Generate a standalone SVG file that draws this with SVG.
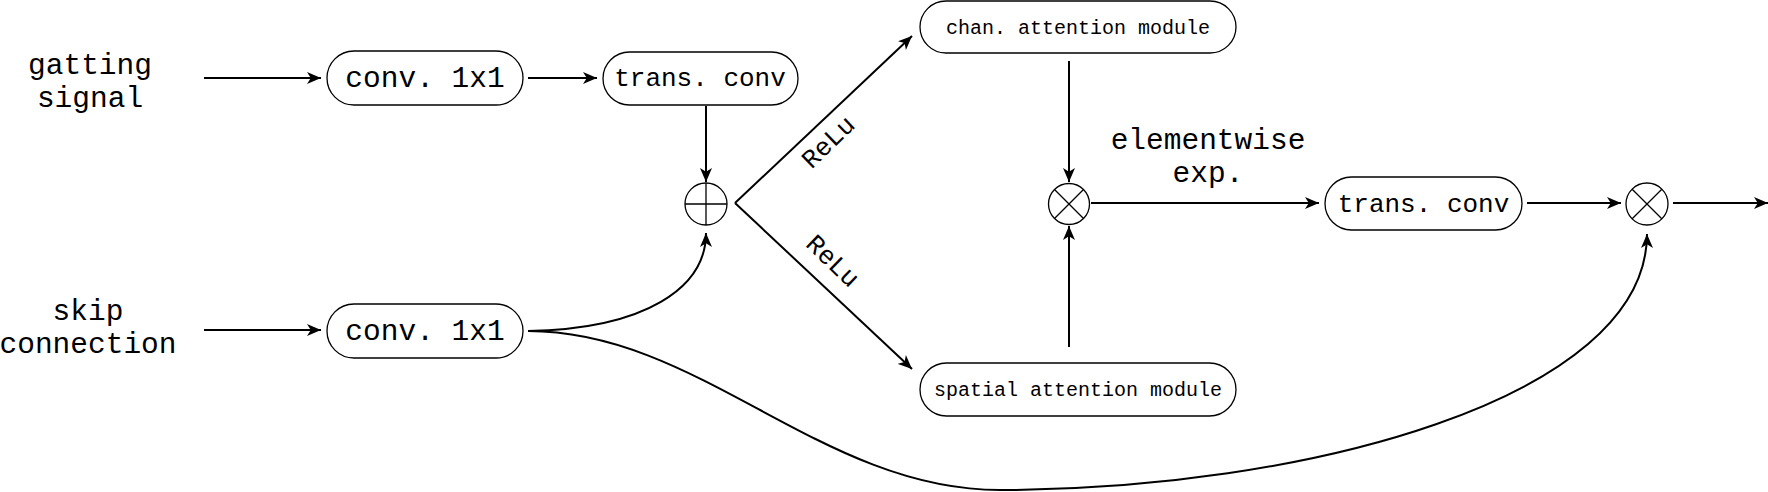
<svg xmlns="http://www.w3.org/2000/svg" width="1768" height="492" viewBox="0 0 1768 492">
<style>
.box{fill:#fff;stroke:#000;stroke-width:1.3}
.op{fill:#fff;stroke:#000;stroke-width:1.3}
.opl{stroke:#000;stroke-width:1.3;fill:none}
.c{fill:none;stroke:#000;stroke-width:2}
.a{marker-end:url(#arr)}
text{font-family:"Courier New","Nimbus Mono PS","FreeMono","Liberation Mono",monospace;fill:#000;text-anchor:middle}
.big{font-size:29.5px}
.mid{font-size:26px}
.sm{font-size:20px}
</style>
<defs>
<marker id="arr" markerUnits="userSpaceOnUse" markerWidth="15" markerHeight="13" refX="14" refY="6.5" orient="auto">
<path d="M0,0.5 L14,6.5 L0,12.5 L3.8,6.5 z" fill="#000"/>
</marker>
</defs>
<g id="connectors">
<path class="c a" d="M204,78 H321"/>
<path class="c a" d="M528,78 H597"/>
<path class="c a" d="M204,330 H321"/>
<path class="c a" d="M706,106 V182"/>
<path class="c a" d="M528,331 C645,329 706,288 706,233"/>
<path class="c a" d="M735,203 L912,36"/>
<path class="c a" d="M735,203 L912,369"/>
<path class="c a" d="M1069,61 V182"/>
<path class="c a" d="M1069,347 V226"/>
<path class="c a" d="M1091,203 H1319"/>
<path class="c a" d="M1527,203 H1621"/>
<path class="c a" d="M1673,203 H1768"/>
<path class="c a" d="M528,331 C700,331 820,490 1000,490 C1300,490 1647,400 1647,234"/>
<text class="mid" transform="translate(834,148) rotate(-44)">ReLu</text>
<text class="mid" transform="translate(827,267) rotate(44)">ReLu</text>
<text class="big" x="1208" y="149">elementwise</text>
<text class="big" x="1208" y="182">exp.</text>
</g>
<g id="gating-signal">
<text class="big" x="90" y="74">gatting</text>
<text class="big" x="90" y="107">signal</text>
</g>
<g id="skip-connection">
<text class="big" x="88" y="320">skip</text>
<text class="big" x="88" y="353">connection</text>
</g>
<g id="conv-top">
<rect class="box" x="327" y="51" width="196" height="54" rx="27"/>
<text class="big" x="425" y="87">conv. 1x1</text>
</g>
<g id="conv-bottom">
<rect class="box" x="327" y="304" width="196" height="54" rx="27"/>
<text class="big" x="425" y="340">conv. 1x1</text>
</g>
<g id="trans-conv-top">
<rect class="box" x="603" y="52" width="195" height="53" rx="26.5"/>
<text class="mid" x="700" y="86">trans. conv</text>
</g>
<g id="add">
<circle class="op" cx="706" cy="204" r="21"/>
<path class="opl" d="M685,204 H727 M706,183 V225"/>
</g>
<g id="chan-attention">
<rect class="box" x="920" y="1" width="316" height="52" rx="26"/>
<text class="sm" x="1078" y="34">chan. attention module</text>
</g>
<g id="spatial-attention">
<rect class="box" x="920" y="363" width="316" height="53" rx="26.5"/>
<text class="sm" x="1078" y="396">spatial attention module</text>
</g>
<g id="mult-mid">
<circle class="op" cx="1069" cy="204" r="20.5"/>
<path class="opl" d="M1054.5,189.5 L1083.5,218.5 M1083.5,189.5 L1054.5,218.5"/>
</g>
<g id="trans-conv-right">
<rect class="box" x="1325" y="177" width="197" height="53" rx="26.5"/>
<text class="mid" x="1423.5" y="212">trans. conv</text>
</g>
<g id="mult-out">
<circle class="op" cx="1647" cy="204" r="21"/>
<path class="opl" d="M1632.2,189.2 L1661.8,218.8 M1661.8,189.2 L1632.2,218.8"/>
</g>
</svg>
